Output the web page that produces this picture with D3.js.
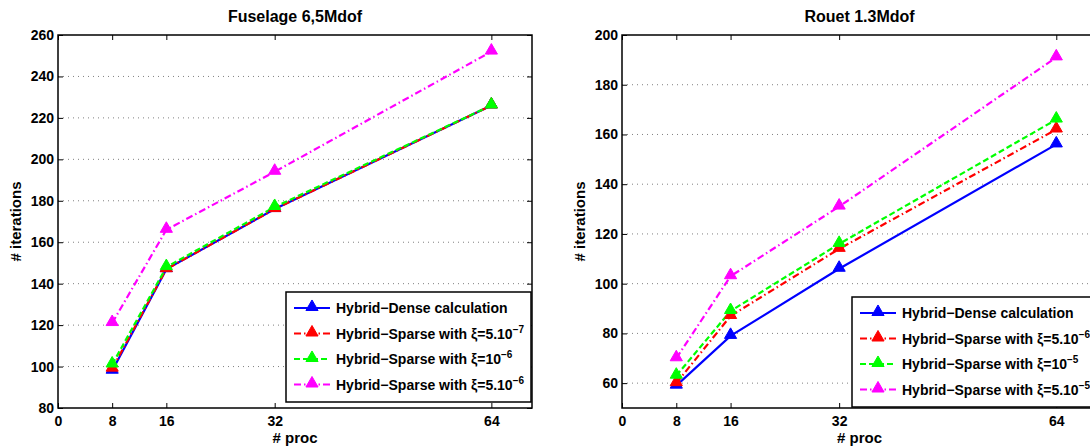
<!DOCTYPE html>
<html><head><meta charset="utf-8">
<script src="https://cdn.jsdelivr.net/npm/d3@7"></script>
<style>
body{margin:0;background:#fff;}
svg{display:block;font-family:"Liberation Sans",Arial,Helvetica,sans-serif;font-weight:bold;}
</style></head>
<body><svg id="c" width="1090" height="447"></svg>
<script>
const procs = [8, 16, 32, 64];
const xTicks = [0, 8, 16, 32, 64];

const fuselageTitle = "Fuselage 6,5Mdof";
const fuselageDense = [98, 147, 176, 226];
const fuselageS1 = [99, 147, 176, 226];
const fuselageS2 = [101, 148, 177, 226];
const fuselageS3 = [121, 166, 194, 252];
const fuselageYTicks = [80, 100, 120, 140, 160, 180, 200, 220, 240, 260];
const fuselageXi = [["5.10", "−7"], ["10", "−6"], ["5.10", "−6"]];

const rouetTitle = "Rouet 1.3Mdof";
const rouetDense = [59, 79, 106, 156];
const rouetS1 = [60, 87, 114, 162];
const rouetS2 = [63, 89, 116, 166];
const rouetS3 = [70, 103, 131, 191];
const rouetYTicks = [60, 80, 100, 120, 140, 160, 180, 200];
const rouetXi = [["5.10", "−6"], ["10", "−5"], ["5.10", "−5"]];

const colors = ["#0000ff", "#ff0000", "#00ff00", "#ff00ff"];
const dashes = [null, "7,3,1.5,3", "6,3", "7,3,1.5,3"];

const svg = d3.select("#c");

function panel(opt) {
  const {left, right, top, bottom, xdom, ydom, yTicks, series, title, xi, legend} = opt;
  const g = svg.append("g");
  const x = d3.scaleLinear().domain(xdom).range([left, right]);
  const y = d3.scaleLinear().domain(ydom).range([bottom, top]);
  const clipId = "clip" + Math.round(left);
  svg.append("defs").append("clipPath").attr("id", clipId)
    .append("rect").attr("x", left).attr("y", top).attr("width", right - left).attr("height", bottom - top);

  // grid
  g.append("g").selectAll("line").data(yTicks.filter(v => v > ydom[0] && v < ydom[1])).join("line")
    .attr("x1", left).attr("x2", right).attr("y1", d => y(d)).attr("y2", d => y(d))
    .attr("stroke", "#808080").attr("stroke-width", 1).attr("stroke-dasharray", "1,4");

  // axes
  const axL = d3.axisLeft(y).tickValues(yTicks).tickSize(-5).tickPadding(4);
  const axB = d3.axisBottom(x).tickValues(xTicks).tickSize(-5).tickPadding(8);
  const axT = d3.axisTop(x).tickValues(xTicks).tickSize(-5).tickFormat("");
  const axR = d3.axisRight(y).tickValues(yTicks).tickSize(-5).tickFormat("");
  const gl = g.append("g").attr("transform", `translate(${left},0)`).call(axL);
  const gb = g.append("g").attr("transform", `translate(0,${bottom})`).call(axB);
  const gt = g.append("g").attr("transform", `translate(0,${top})`).call(axT);
  const gr = g.append("g").attr("transform", `translate(${right},0)`).call(axR);
  [gl, gb, gt, gr].forEach(a => {
    a.select(".domain").remove();
    a.selectAll("line").attr("stroke", "#000").attr("stroke-width", 1);
    a.selectAll("text").attr("font-size", 14).attr("font-weight", "bold")
      .attr("font-family", '"Liberation Sans",Arial,sans-serif').attr("fill", "#000");
  });
  g.append("rect").attr("x", left).attr("y", top).attr("width", right - left).attr("height", bottom - top)
    .attr("fill", "none").attr("stroke", "#000").attr("stroke-width", 1.5);

  // series
  const line = d3.line().x((d, i) => x(procs[i])).y(d => y(d));
  const sg = g.append("g").attr("clip-path", `url(#${clipId})`);
  series.forEach((s, k) => {
    sg.append("path").datum(s).attr("d", line).attr("fill", "none")
      .attr("stroke", colors[k]).attr("stroke-width", 2.2)
      .attr("stroke-dasharray", dashes[k]);
  });
  const tri = d3.symbol().type(d3.symbolTriangle).size(64);
  series.forEach((s, k) => {
    sg.append("g").selectAll("path").data(s).join("path")
      .attr("transform", (d, i) => `translate(${x(procs[i])},${y(d) - 1})`)
      .attr("d", tri).attr("fill", colors[k]).attr("stroke", colors[k]).attr("stroke-width", 1);
  });

  // titles
  const cx = (left + right) / 2;
  g.append("text").attr("x", cx).attr("y", 22).attr("text-anchor", "middle")
    .attr("font-size", 16).text(title);
  g.append("text").attr("x", cx).attr("y", 443).attr("text-anchor", "middle")
    .attr("font-size", 15).text("# proc");
  g.append("text").attr("transform", `translate(${left - 37},${(top + bottom) / 2}) rotate(-90)`)
    .attr("text-anchor", "middle").attr("font-size", 15).text("# iterations");

  // legend
  const L = legend;
  const lg = g.append("g");
  lg.append("rect").attr("x", L.x).attr("y", L.y).attr("width", L.w).attr("height", L.h)
    .attr("fill", "#fff").attr("stroke", "#000").attr("stroke-width", 1.5);
  const labels = ["Hybrid−Dense calculation"].concat(xi.map(v => "Hybrid−Sparse with ξ="));
  labels.forEach((lab, k) => {
    const yy = L.y + 16 + k * 25.5;
    lg.append("line").attr("x1", L.x + 8).attr("x2", L.x + 44).attr("y1", yy).attr("y2", yy)
      .attr("stroke", colors[k]).attr("stroke-width", 2.2).attr("stroke-dasharray", dashes[k]);
    lg.append("path").attr("transform", `translate(${L.x + 26},${yy - 1})`).attr("d", tri)
      .attr("fill", colors[k]).attr("stroke", colors[k]);
    const t = lg.append("text").attr("x", L.x + 50).attr("y", yy + 5).attr("font-size", 14);
    t.append("tspan").text(lab);
    if (k > 0) {
      t.append("tspan").text(xi[k - 1][0]);
      t.append("tspan").attr("dy", -6).attr("font-size", 10).text(xi[k - 1][1]);
    }
  });
}

panel({left: 58, right: 532, top: 35, bottom: 408, xdom: [0, 70], ydom: [80, 260],
  yTicks: fuselageYTicks, series: [fuselageDense, fuselageS1, fuselageS2, fuselageS3],
  title: fuselageTitle, xi: fuselageXi, legend: {x: 286, y: 292, w: 245, h: 110}});
panel({left: 622, right: 1097, top: 35, bottom: 408, xdom: [0, 70], ydom: [50, 200],
  yTicks: rouetYTicks, series: [rouetDense, rouetS1, rouetS2, rouetS3],
  title: rouetTitle, xi: rouetXi, legend: {x: 852, y: 297, w: 245, h: 110}});
</script></body></html>
